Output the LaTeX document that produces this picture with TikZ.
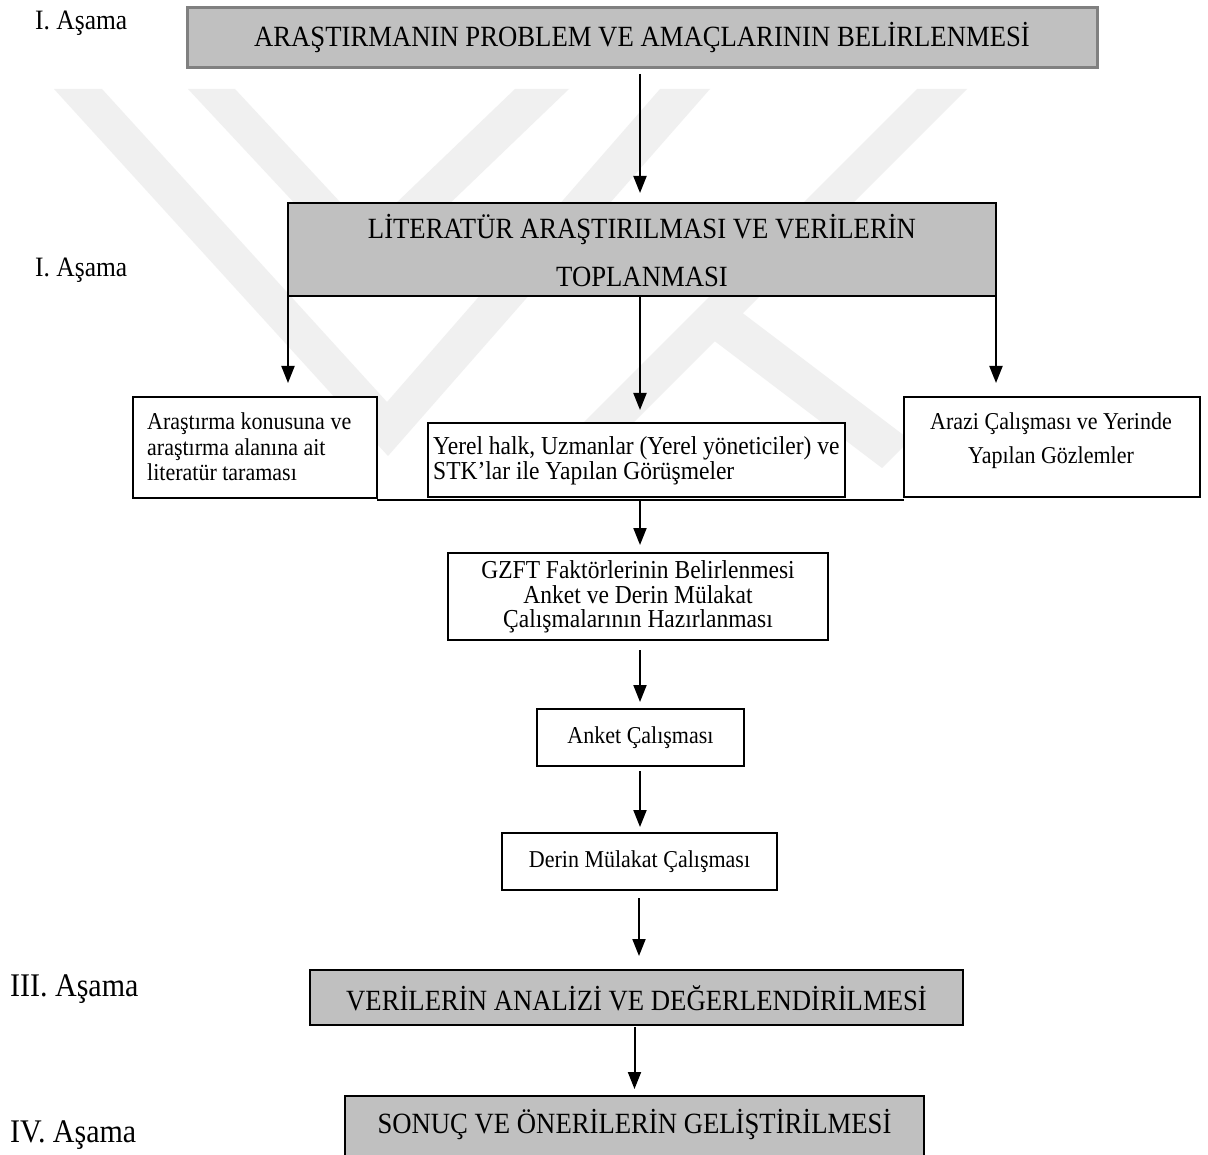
\documentclass[tikz,border=0pt]{standalone}
\usepackage{fontspec}
\usepackage{graphicx}
\setmainfont{Liberation Serif}
\usetikzlibrary{arrows.meta,calc}
\definecolor{boxgray}{HTML}{C0C0C0}
\definecolor{wm}{HTML}{F0F0F0}
\newcommand\tall[1]{\scalebox{1}[1.1]{#1}}
\newcommand\tallL[2]{\scalebox{1}[1.1]{\vbox{\baselineskip=#1\lineskiplimit=-100pt\lineskip=0pt\halign{##\hfil\cr #2\cr}}}}
\newcommand\tallC[2]{\scalebox{1}[1.1]{\vbox{\baselineskip=#1\lineskiplimit=-100pt\lineskip=0pt\halign{\hfil##\hfil\cr #2\cr}}}}
\begin{document}
\begin{tikzpicture}[x=1pt,y=-1pt,
  box/.style={draw=black, line width=1.4pt, fill=white, inner sep=0pt, outer sep=0pt},
  graybox/.style={box, fill=boxgray},
  bigtxt/.style={inner sep=0pt, font=\fontsize{26.7}{30}\selectfont},
  smalltxt/.style={inner sep=0pt, font=\fontsize{22}{25}\selectfont},
  midtxt/.style={inner sep=0pt, font=\fontsize{23.5}{26}\selectfont},
  lab/.style={inner sep=0pt, anchor=base west, font=\fontsize{25.5}{30}\selectfont},
  labbig/.style={lab, font=\fontsize{30}{34}\selectfont},
  arr/.style={line width=2pt, -{Triangle[width=13pt,length=17pt]}}
]
\useasboundingbox (0,0) rectangle (1208,1155);
\fill[white] (0,0) rectangle (1208,1155);
% watermark
\fill[wm] (54,89) -- (102,89) -- (387,402) -- (660,89) -- (710,89) -- (388,456) -- cycle;
\fill[wm] (188,89) -- (235,89) -- (367,231) -- (515,89) -- (569,89) -- (368,282) -- cycle;
\fill[wm] (917,89) -- (967,89) -- (611,445) -- (561,445) -- cycle;
\fill[wm] (700,330) -- (728,302) -- (910,440) -- (882,468) -- cycle;

% boxes
\node[graybox, draw=gray, line width=3pt, minimum width=910pt, minimum height=60pt] (top) at (642,38) {};
\node[graybox, minimum width=708pt, minimum height=93pt] (lit) at (642,249.5) {};
\node[box, minimum width=244pt, minimum height=101pt] (lbox) at (255,447.5) {};
\node[box, minimum width=417pt, minimum height=74pt] (mbox) at (636.5,460) {};
\node[box, minimum width=296pt, minimum height=100pt] (rbox) at (1052,447) {};
\node[box, minimum width=380pt, minimum height=87pt] (gzft) at (638,596.5) {};
\node[box, minimum width=207pt, minimum height=57pt] (anket) at (640.5,737.5) {};
\node[box, minimum width=275pt, minimum height=57pt] (derin) at (639.5,861.5) {};
\node[graybox, minimum width=653pt, minimum height=55pt] (three) at (636.5,997.5) {};
\node[graybox, minimum width=579pt, minimum height=63pt] (four) at (634.5,1127.5) {};

% texts
\node[bigtxt] (toptext) at (642,38) {\tall{ARAŞTIRMANIN PROBLEM VE AMAÇLARININ BELİRLENMESİ}};
\node[bigtxt] (littext) at (642,251) {\tallC{43.6pt}{LİTERATÜR ARAŞTIRILMASI VE VERİLERİN\cr TOPLANMASI}};
\node[smalltxt, anchor=west] (ltext) at (147,447) {\tallL{23.2pt}{Araştırma konusuna ve\cr araştırma alanına ait\cr literatür taraması}};
\node[midtxt, anchor=west] (mtext) at (433,461) {\tallL{22.7pt}{Yerel halk, Uzmanlar (Yerel yöneticiler) ve\cr STK’lar ile Yapılan Görüşmeler}};
\node[smalltxt] (rtext) at (1051,441) {\tallC{30.9pt}{Arazi Çalışması ve Yerinde\cr Yapılan Gözlemler}};
\node[midtxt] (gtext) at (638,597) {\tallC{22.3pt}{GZFT Faktörlerinin Belirlenmesi\cr Anket ve Derin Mülakat\cr Çalışmalarının Hazırlanması}};
\node[smalltxt] (atext) at (640.5,738) {\tall{Anket Çalışması}};
\node[smalltxt] (dtext) at (639.5,862) {\tall{Derin Mülakat Çalışması}};
\node[bigtxt] (threetext) at (636.5,998) {\tall{VERİLERİN ANALİZİ VE DEĞERLENDİRİLMESİ}};
\node[bigtxt] (fourtext) at (634.5,1125) {\tall{SONUÇ VE ÖNERİLERİN GELİŞTİRİLMESİ}};

% stage labels
\node[lab] (l1) at (35,29.5) {\tall{I. Aşama}};
\node[lab] (l2) at (35,277) {\tall{I. Aşama}};
\node[labbig] (l3) at (10,996) {\tall{III. Aşama}};
\node[labbig] (l4) at (10,1142) {\tall{IV. Aşama}};

% connectors
\draw[arr] ($(top.south)+(-2,6)$) -- ($(lit.north)+(-2,-10)$);
\draw[line width=2.5pt] (lit.south west) -- ($(lit.south west)+(117,0)$);
\draw[line width=2.5pt] (lit.south east) -- ($(lit.south east)+(-116,0)$);
\draw[arr] (lit.south west) -- ($(lit.south west |- lbox.north)+(0,-14)$);
\draw[arr] ($(lit.south)+(-2,0)$) -- ($(lit.south |- mbox.north)+(-2,-13)$);
\draw[arr] (lit.south east) -- ($(lit.south east |- rbox.north)+(0,-14)$);
\coordinate (join) at ($(mbox.south)+(3.5,3)$);
\draw[line width=2pt] ($(lbox.south east)+(0,2)$) -- ($(rbox.south west |- lbox.south east)+(0,2)$);
\draw[arr] (join) -- ($(gzft.north)+(2,-8)$);
\draw[arr] ($(gzft.south)+(2,10)$) -- ($(anket.north)+(-0.5,-7)$);
\draw[arr] ($(anket.south)+(-0.5,5)$) -- ($(derin.north)+(0.5,-6)$);
\draw[arr] ($(derin.south)+(-0.5,8)$) -- ($(three.north)+(2.5,-14)$);
\draw[arr] ($(three.south)+(-2,2)$) -- ($(four.north)+(0,-7)$);
\end{tikzpicture}
\end{document}
